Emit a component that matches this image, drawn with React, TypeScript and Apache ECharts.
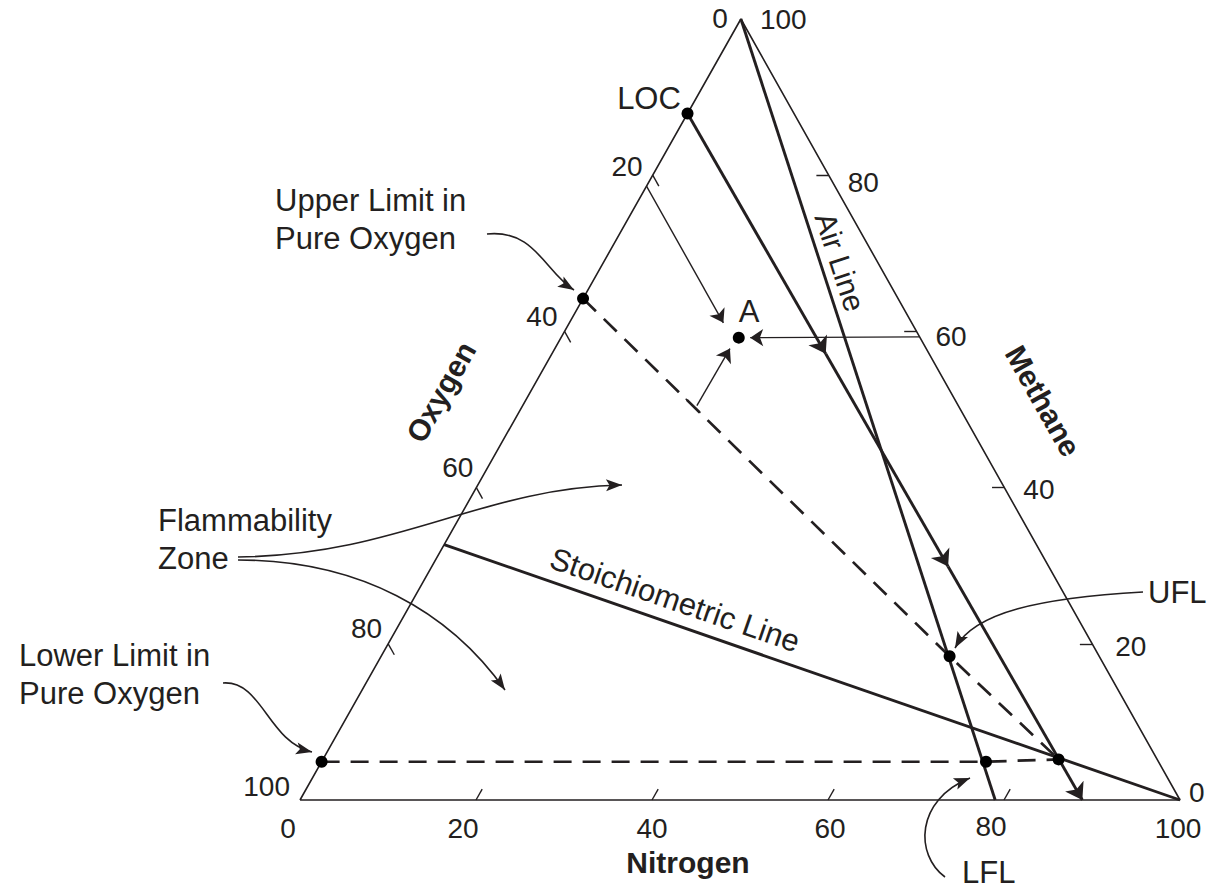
import React, { useEffect, useRef } from "react";
import * as echarts from "echarts";

// ---------- data: compositions in mol %, written as [nitrogen, oxygen, methane] ----------
const TICK_VALUES = [0, 20, 40, 60, 80, 100];
const MINOR_TICKS = [20, 40, 60, 80];
const LOC_POINT = [0, 12.1, 87.9];
const LOC_LINE_END = [88.9, 11.1, 0];
const LOC_ARROW_FRACTIONS = [0.35, 0.66, 1];
const AIR_LINE = [[0, 0, 100], [79, 21, 0]];
const STOICH_LINE = [[0, 67.3, 32.7], [100, 0, 0]];
const UPPER_LIMIT_O2 = [0, 35.8, 64.2];
const LOWER_LIMIT_O2 = [0, 95.1, 4.9];
const UFL_POINT = [64.6, 17.0, 18.4];
const LFL_POINT = [75.5, 19.6, 4.9];
const NOSE_POINT = [83.6, 11.2, 5.2];
const POINT_A = [20.2, 20.6, 59.2];
const READ_OXYGEN = [[0, 21.4, 78.6], [17.5, 21.4, 61.1]];
const READ_METHANE = [[40.7, 0, 59.3], [21.5, 19.3, 59.2]];
const READ_NITROGEN = [[19.8, 29.7, 50.5], [19.9, 22.3, 57.8]];

// ---------- layout / style ----------
const INK = "#231f20";
const FONT = "'Liberation Sans', Arial, Helvetica, sans-serif";
const APEX_X = 0.501;
const TICK_LEN = 1.4;
const DIGIT_SIZE = 28;
const LABEL_SIZE = 31;
const DASH = [18, 11];
// per tick-label pixel offsets [dx, dy]
const N_LABEL_OFF = [[-12, 28], [-13, 28], [0, 28], [2, 28], [-13, 26], [-2, 28]];
const O_LABEL_OFF = [[-13, -1], [-10, -9], [-7, -15], [-3, -20], [-6, -15], [-10, -14]];
const M_LABEL_OFF = [[9, -8], [23, 3], [19, 2], [19, 5], [19, 7], [19, 0]];

const toXY = (t: number[]) => [t[0] + t[2] * APEX_X, t[2]];
const mix = (a: number[], b: number[], f: number) => a.map((v, i) => v + (b[i] - v) * f);

function arrowHead(tip: number[], from: number[], len = 15, half = 5.5) {
  const dx = tip[0] - from[0];
  const dy = tip[1] - from[1];
  const d = Math.hypot(dx, dy) || 1;
  const ux = dx / d;
  const uy = dy / d;
  const bx = tip[0] - ux * len;
  const by = tip[1] - uy * len;
  const nx = tip[0] - ux * len * 0.78;
  const ny = tip[1] - uy * len * 0.78;
  return [tip, [bx - uy * half, by + ux * half], [nx, ny], [bx + uy * half, by - ux * half]];
}

const CALLOUTS = [
  { p0: [487, 234], c1: [535, 229], c2: [545, 272], p1: [574, 290] },
  { p0: [223, 683], c1: [262, 680], c2: [268, 742], p1: [312, 752] },
  { p0: [238, 557], c1: [400, 555], c2: [480, 488], p1: [622, 485] },
  { p0: [238, 560], c1: [360, 560], c2: [450, 612], p1: [505, 690] },
  { p0: [1143, 592], c1: [1040, 598], c2: [975, 612], p1: [955, 648] },
  { p0: [945, 877], c1: [915, 855], c2: [915, 800], p1: [970, 778] },
];

const LABELS = [
  { text: "LOC", x: 649, y: 98, align: "center" },
  { text: "A", x: 749, y: 311, align: "center" },
  { text: "Upper Limit in\nPure Oxygen", x: 275, y: 219, align: "left" },
  { text: "Flammability\nZone", x: 158, y: 539, align: "left" },
  { text: "Lower Limit in\nPure Oxygen", x: 19, y: 674, align: "left" },
  { text: "UFL", x: 1148, y: 592, align: "left" },
  { text: "LFL", x: 962, y: 872, align: "left" },
];

const ROTATED = [
  { text: "Air Line", x: 840, y: 262, deg: -71.8, bold: false, size: 30 },
  { text: "Stoichiometric Line", x: 675, y: 600, deg: -19, bold: false, size: 31 },
  { text: "Oxygen", x: 441, y: 392, deg: 60.6, bold: true, size: 30 },
  { text: "Methane", x: 1043, y: 401, deg: -60.6, bold: true, size: 30 },
  { text: "Nitrogen", x: 688, y: 862, deg: 0, bold: true, size: 30 },
];

function textEl(text: string, x: number, y: number, size: number, align = "center", opts: any = {}) {
  const style: any = {
    text,
    fill: INK,
    fontSize: size,
    fontFamily: FONT,
    fontWeight: opts.bold ? "bold" : "normal",
    align,
    verticalAlign: "middle",
    textAlign: align,
    textVerticalAlign: "middle",
  };
  if (text.indexOf("\n") >= 0) style.lineHeight = 38;
  return { type: "text", x, y, rotation: opts.rotation || 0, silent: true, style };
}

export default function App() {
  const ref = useRef<HTMLDivElement>(null);

  useEffect(() => {
    if (!ref.current) return;
    const chart = echarts.init(ref.current, null, { renderer: "svg" });

    const locSegments = LOC_ARROW_FRACTIONS.map((f, i) => {
      const f0 = i === 0 ? 0 : LOC_ARROW_FRACTIONS[i - 1];
      return { coords: [toXY(mix(LOC_POINT, LOC_LINE_END, f0)), toXY(mix(LOC_POINT, LOC_LINE_END, f))] };
    });

    const tickSegs: any[] = [];
    MINOR_TICKS.forEach((v) => {
      tickSegs.push({ coords: [toXY([v, 100 - v, 0]), toXY([v, 100 - v - TICK_LEN, TICK_LEN])] });
      tickSegs.push({ coords: [toXY([0, v, 100 - v]), toXY([TICK_LEN, v, 100 - v - TICK_LEN])] });
      tickSegs.push({ coords: [toXY([100 - v, 0, v]), toXY([100 - v - TICK_LEN, TICK_LEN, v])] });
    });
    tickSegs.push({
      coords: [toXY(mix(UPPER_LIMIT_O2, UFL_POINT, 0.28)), toXY(mix(UPPER_LIMIT_O2, UFL_POINT, 0.32))],
    });

    const thick = { color: INK, width: 2.9 };

    chart.setOption({
      animation: false,
      backgroundColor: "#ffffff",
      grid: { left: 300, top: 19, width: 880, height: 781 },
      xAxis: { type: "value", min: 0, max: 100, show: false },
      yAxis: { type: "value", min: 0, max: 100, show: false },
      series: [
        {
          type: "line",
          name: "frame",
          data: [toXY([0, 100, 0]), toXY([100, 0, 0]), toXY([0, 0, 100]), toXY([0, 100, 0])],
          symbol: "none",
          clip: false,
          silent: true,
          lineStyle: { color: INK, width: 1.6 },
        },
        {
          type: "lines",
          name: "ticks",
          coordinateSystem: "cartesian2d",
          data: tickSegs,
          silent: true,
          lineStyle: { color: INK, width: 1.4, opacity: 1 },
        },
        {
          type: "line",
          name: "Air Line",
          data: AIR_LINE.map(toXY),
          symbol: "none",
          clip: false,
          lineStyle: thick,
        },
        {
          type: "line",
          name: "Stoichiometric Line",
          data: STOICH_LINE.map(toXY),
          symbol: "none",
          clip: false,
          lineStyle: thick,
        },
        {
          type: "lines",
          name: "LOC line",
          coordinateSystem: "cartesian2d",
          data: locSegments,
          symbol: ["none", "arrow"],
          symbolSize: 16,
          lineStyle: { color: INK, width: 2.9, opacity: 1 },
        },
        {
          type: "line",
          name: "upper boundary",
          data: [UPPER_LIMIT_O2, UFL_POINT, NOSE_POINT].map(toXY),
          symbol: "none",
          clip: false,
          lineStyle: { color: INK, width: 2.7, type: DASH },
        },
        {
          type: "line",
          name: "lower boundary",
          data: [LOWER_LIMIT_O2, LFL_POINT, NOSE_POINT].map(toXY),
          symbol: "none",
          clip: false,
          lineStyle: { color: INK, width: 2.7, type: DASH },
        },
        {
          type: "lines",
          name: "reading A",
          coordinateSystem: "cartesian2d",
          data: [READ_OXYGEN, READ_METHANE, READ_NITROGEN].map((s) => ({ coords: s.map(toXY) })),
          symbol: ["none", "arrow"],
          symbolSize: 13,
          lineStyle: { color: INK, width: 1.4, opacity: 1 },
        },
        {
          type: "scatter",
          name: "points",
          data: [LOC_POINT, UPPER_LIMIT_O2, LOWER_LIMIT_O2, UFL_POINT, LFL_POINT, NOSE_POINT, POINT_A].map(toXY),
          symbolSize: 12,
          itemStyle: { color: "#000", opacity: 1 },
          clip: false,
          z: 5,
        },
      ],
    });

    const px = (t: number[]) => chart.convertToPixel({ gridIndex: 0 }, toXY(t)) as number[];
    const graphics: any[] = [];

    TICK_VALUES.forEach((v, i) => {
      const pn = px([v, 100 - v, 0]);
      graphics.push(textEl(String(v), pn[0] + N_LABEL_OFF[i][0], pn[1] + N_LABEL_OFF[i][1], DIGIT_SIZE, "center"));
      const po = px([0, v, 100 - v]);
      graphics.push(textEl(String(v), po[0] + O_LABEL_OFF[i][0], po[1] + O_LABEL_OFF[i][1], DIGIT_SIZE, "right"));
      const pm = px([100 - v, 0, v]);
      graphics.push(textEl(String(v), pm[0] + M_LABEL_OFF[i][0], pm[1] + M_LABEL_OFF[i][1], DIGIT_SIZE, "left"));
    });

    LABELS.forEach((l) => graphics.push(textEl(l.text, l.x, l.y, LABEL_SIZE, l.align)));
    ROTATED.forEach((r) =>
      graphics.push(textEl(r.text, r.x, r.y, r.size, "center", { rotation: (r.deg * Math.PI) / 180, bold: r.bold }))
    );

    CALLOUTS.forEach((c) => {
      graphics.push({
        type: "bezierCurve",
        silent: true,
        shape: {
          x1: c.p0[0], y1: c.p0[1],
          cpx1: c.c1[0], cpy1: c.c1[1],
          cpx2: c.c2[0], cpy2: c.c2[1],
          x2: c.p1[0], y2: c.p1[1],
        },
        style: { stroke: INK, lineWidth: 1.6, fill: null },
      });
      graphics.push({
        type: "polygon",
        silent: true,
        shape: { points: arrowHead(c.p1, c.c2, 16, 6) },
        style: { fill: INK, stroke: null },
      });
    });

    chart.setOption({ graphic: graphics });

    return () => chart.dispose();
  }, []);

  return (
    <div
      ref={ref}
      style={{ position: "absolute", left: 0, top: 0, width: 1210, height: 891, background: "#fff" }}
    />
  );
}
